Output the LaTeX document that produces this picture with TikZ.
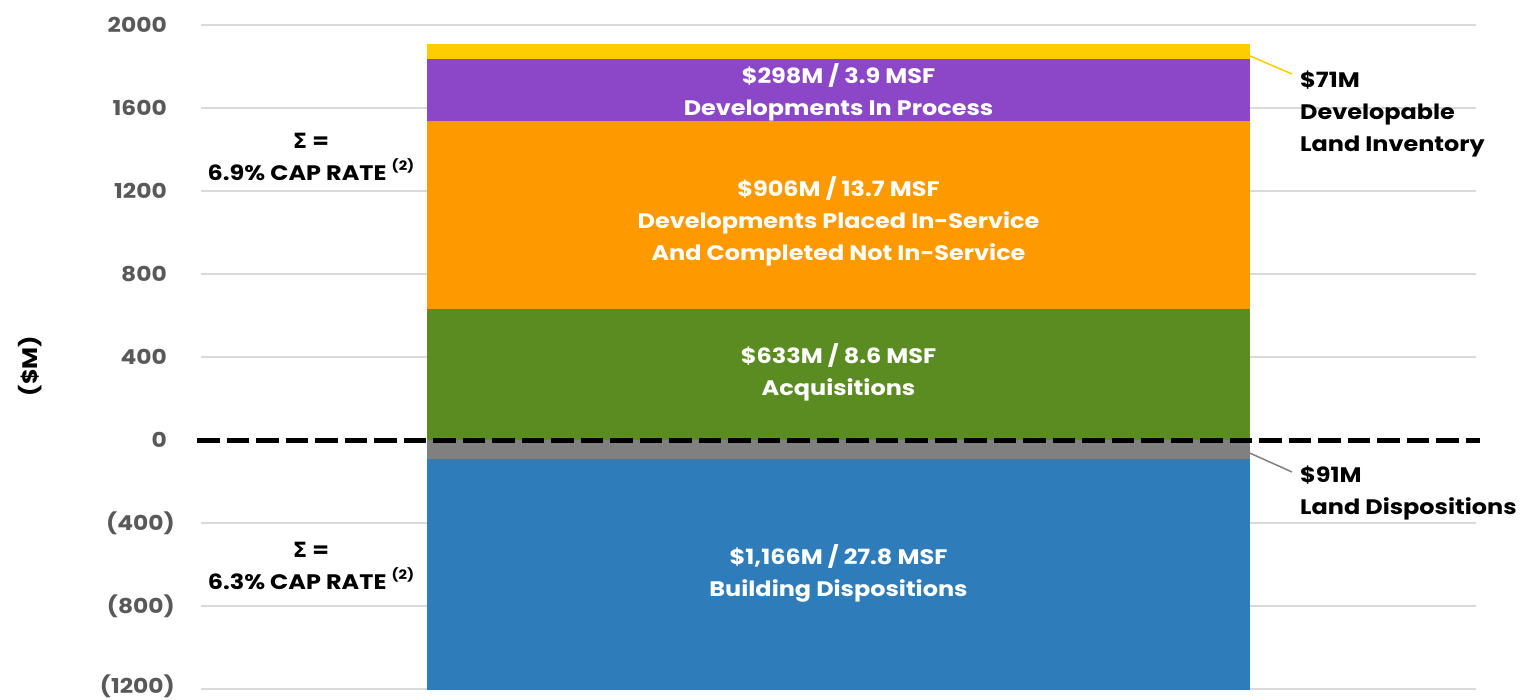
\documentclass[tikz,border=0pt]{standalone}
\usepackage{fontspec}
\setmainfont{Poppins}[FakeStretch=1.14]
\newfontfamily\symf{DejaVu Sans}
\definecolor{cYel}{HTML}{FFCC00}
\definecolor{cPur}{HTML}{8B47C8}
\definecolor{cOra}{HTML}{FF9900}
\definecolor{cGre}{HTML}{5B8C22}
\definecolor{cGry}{HTML}{808080}
\definecolor{cBlu}{HTML}{2F7CBA}
\definecolor{gridgray}{HTML}{D9D9D9}
\definecolor{axisgray}{HTML}{595959}
\newcommand{\supr}{\raisebox{0.5em}{\fontsize{13}{13}\selectfont (2)}}
\newcommand{\sig}{{\symf\bfseries Σ}}
\tikzset{
  ylab/.style={anchor=east, text=axisgray, font=\bfseries\fontsize{20.5}{21}\selectfont, inner sep=0},
  gridln/.style={draw=gridgray, line width=1.5pt},
  seg/.style={minimum width=823pt, inner sep=0, outer sep=0},
  segtext/.style={inner sep=0, text=white, align=center,
    font=\bfseries\fontsize{21}{32}\selectfont},
  callout/.style={anchor=north west, align=left, inner sep=0,
    font=\bfseries\fontsize{21}{32}\selectfont},
  caprate/.style={align=center, inner sep=0, font=\bfseries\fontsize{21}{32}\selectfont},
  leader/.style={line width=1.5pt},
}
\begin{document}
\begin{tikzpicture}[x=1pt,y=-1pt]
\useasboundingbox (0,0) rectangle (1522,699);
% gridlines
\foreach \yy in {25,108,191,274,357,523,606,689}
  \draw[gridln] (201,\yy) -- (1476,\yy);
% axis labels
\node[ylab] (l2000) at (167,25) {2000};
\node[ylab] (l1600) at (167,108) {1600};
\node[ylab] (l1200) at (167,191) {1200};
\node[ylab] (l800) at (167,274) {800};
\node[ylab] (l400) at (167,357) {400};
\node[ylab] (l0) at (167,440) {0};
\node[ylab] (lm400) at (175,523) {(400)};
\node[ylab] (lm800) at (175,606) {(800)};
\node[ylab] (lm1200) at (175,686) {(1200)};
\node[rotate=90, inner sep=0, font=\bfseries\fontsize{21}{21}\selectfont] (unit) at (30,366) {(\$M)};
% bar segments
\node[seg, fill=cYel, minimum height=15pt] (yel) at (838.5,51.5) {};
\node[seg, fill=cPur, minimum height=62pt] (pur) at (838.5,90) {};
\node[seg, fill=cOra, minimum height=188pt] (ora) at (838.5,215) {};
\node[seg, fill=cGre, minimum height=131pt] (gre) at (838.5,374.5) {};
\node[seg, fill=cGry, minimum height=19pt] (gry) at (838.5,449.5) {};
\node[seg, fill=cBlu, minimum height=231pt] (blu) at (838.5,574.5) {};
% bar texts
\node[segtext] (purt) at (838.5,92.5) {\$298M / 3.9 MSF\\Developments In Process};
\node[segtext] (orat) at (838.5,221) {\$906M / 13.7 MSF\\Developments Placed In-Service\\And Completed Not In-Service};
\node[segtext] (gret) at (838.5,372.5) {\$633M / 8.6 MSF\\Acquisitions};
\node[segtext] (blut) at (838.5,573) {\$1,166M / 27.8 MSF\\Building Dispositions};
% zero line
\coordinate (z0) at (197,440);
\coordinate (z1) at (1480,440);
\draw[line width=5pt, dash pattern=on 22.5pt off 7pt] (z0) -- (z1);
% callouts
\coordinate (ys) at (1243,53);
\coordinate (yl) at (1292,74);
\coordinate (gs) at (1243,450);
\coordinate (gl) at (1292,472);
\draw[leader, draw=cYel] (ys) -- (yl);
\draw[leader, draw=cGry] (gs) -- (gl);
\node[callout] (c71) at (1300,71) {\$71M\\Developable\\Land Inventory};
\node[callout] (c91) at (1300,466) {\$91M\\Land Dispositions};
% cap rates
\node[caprate] (cr1) at (311,157) {\sig{} =\\6.9\% CAP RATE \supr};
\node[caprate] (cr2) at (311,566) {\sig{} =\\6.3\% CAP RATE \supr};
\end{tikzpicture}
\end{document}
